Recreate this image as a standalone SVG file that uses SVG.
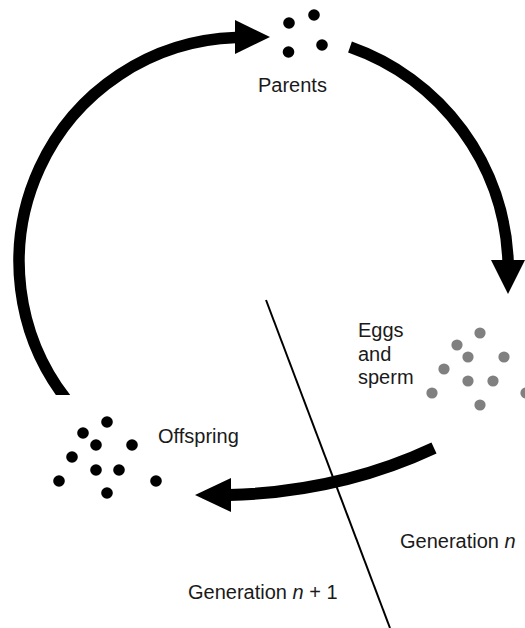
<svg xmlns="http://www.w3.org/2000/svg" width="525" height="628" viewBox="0 0 525 628">
<style>
.lbl{font-family:"Liberation Sans",Arial,sans-serif;font-size:20px;fill:#1a1a1a}
.arc{fill:none;stroke:#000;stroke-width:11.5;stroke-linecap:butt}
.head{fill:#000}
.bd{fill:#000}
.gd{fill:#808080}
.sep{stroke:#000;stroke-width:2;fill:none}
</style>
<defs>
<clipPath id="clipL"><rect x="0" y="0" width="525" height="395"/></clipPath>
</defs>
<rect width="525" height="628" fill="#fff"/>
<g id="connectors">
<path class="arc" clip-path="url(#clipL)" d="M 68.4 402 A 224.2 224.2 0 0 1 236 37.6"/>
<polygon class="head" points="235,20 270,37 235,54"/>
<path class="arc" d="M 350 47 A 236.6 236.6 0 0 1 508.1 262"/>
<polygon class="head" points="491,260 525,260 508,294"/>
<path class="arc" style="stroke-width:12" d="M 434 448 Q 340 492 229 495"/>
<polygon class="head" points="231,478 231,512 195,495"/>
<line class="sep" x1="266" y1="300" x2="390" y2="628"/>
</g>
<g id="parents">
<circle class="bd" cx="289" cy="23" r="5.8"/>
<circle class="bd" cx="314" cy="15" r="5.8"/>
<circle class="bd" cx="288.5" cy="52" r="5.8"/>
<circle class="bd" cx="322" cy="45" r="5.8"/>
<text class="lbl" x="258" y="92">Parents</text>
</g>
<g id="eggs-and-sperm">
<circle class="gd" cx="480" cy="333" r="5.6"/>
<circle class="gd" cx="457" cy="345" r="5.6"/>
<circle class="gd" cx="468" cy="357" r="5.6"/>
<circle class="gd" cx="504" cy="357" r="5.6"/>
<circle class="gd" cx="444" cy="369" r="5.6"/>
<circle class="gd" cx="468" cy="381" r="5.6"/>
<circle class="gd" cx="493" cy="381" r="5.6"/>
<circle class="gd" cx="432" cy="393" r="5.6"/>
<circle class="gd" cx="480" cy="405" r="5.6"/>
<circle class="gd" cx="526" cy="393" r="5.6"/>
<text class="lbl" x="358" y="337">Eggs</text>
<text class="lbl" x="358" y="361">and</text>
<text class="lbl" x="358" y="384">sperm</text>
</g>
<g id="offspring">
<circle class="bd" cx="107" cy="422" r="5.8"/>
<circle class="bd" cx="83" cy="433" r="5.8"/>
<circle class="bd" cx="96" cy="445" r="5.8"/>
<circle class="bd" cx="132" cy="445" r="5.8"/>
<circle class="bd" cx="72" cy="457" r="5.8"/>
<circle class="bd" cx="96" cy="470" r="5.8"/>
<circle class="bd" cx="119" cy="470" r="5.8"/>
<circle class="bd" cx="59" cy="481" r="5.8"/>
<circle class="bd" cx="156" cy="481" r="5.8"/>
<circle class="bd" cx="107" cy="493" r="5.8"/>
<text class="lbl" x="158" y="443">Offspring</text>
</g>
<g id="generation-n">
<text class="lbl" x="400" y="548">Generation <tspan font-style="italic">n</tspan></text>
</g>
<g id="generation-n1">
<text class="lbl" x="188" y="599">Generation <tspan font-style="italic">n</tspan> + 1</text>
</g>
</svg>
